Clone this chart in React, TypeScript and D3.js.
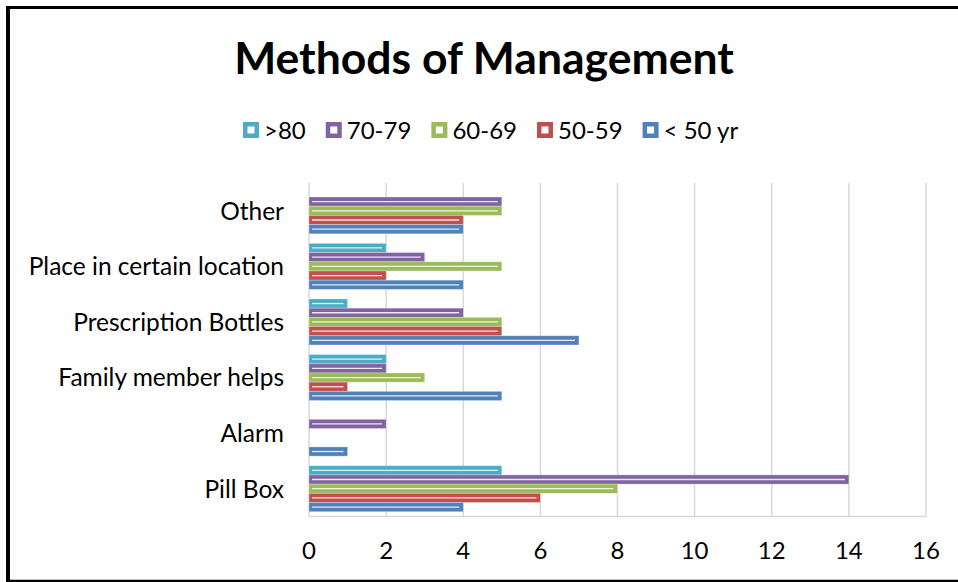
import * as d3 from "d3";
import { useEffect, useRef } from "react";

const W = 958;
const H = 582;

// categories as read top to bottom
const categories = [
  "Other",
  "Place in certain location",
  "Prescription Bottles",
  "Family member helps",
  "Alarm",
  "Pill Box",
];

// series in legend order (also top-to-bottom inside each group)
const seriesNames = [">80", "70-79", "60-69", "50-59", "< 50 yr"];
const seriesColors = ["#4BACC6", "#8064A2", "#9BBB59", "#C0504D", "#4F81BD"];

// values per series, aligned with categories
const over80 = [0, 2, 1, 2, 0, 5];
const age70s = [5, 3, 4, 2, 2, 14];
const age60s = [5, 5, 5, 3, 0, 8];
const age50s = [4, 2, 5, 1, 0, 6];
const under50 = [4, 4, 7, 5, 1, 4];
const seriesValues = [over80, age70s, age60s, age50s, under50];

const xTicks = [0, 2, 4, 6, 8, 10, 12, 14, 16];

const FONT = "Lato, 'Open Sans', sans-serif";

export default function App() {
  const svgRef = useRef<SVGSVGElement | null>(null);

  useEffect(() => {
    const svg = d3.select(svgRef.current);
    svg.selectAll("*").remove();

    const margin = { top: 183, left: 309, right: 32, bottom: 65.5 };

    const x = d3
      .scaleLinear()
      .domain([0, 16])
      .range([margin.left, W - margin.right]);

    const y = d3
      .scaleBand()
      .domain(categories)
      .range([margin.top, H - margin.bottom])
      .padding(0);

    const ySub = d3
      .scaleBand()
      .domain(seriesNames)
      .range([0, y.bandwidth()])
      .paddingInner(0)
      .paddingOuter(0.52);

    svg
      .append("rect")
      .attr("width", W)
      .attr("height", H)
      .attr("fill", "#fff");

    // outer frame
    svg.append("line").attr("x1", 8).attr("x2", 8).attr("y1", 6).attr("y2", H)
      .attr("stroke", "#000").attr("stroke-width", 4);
    svg.append("line").attr("x1", 6).attr("x2", W).attr("y1", 7.5).attr("y2", 7.5)
      .attr("stroke", "#000").attr("stroke-width", 3);
    svg.append("line").attr("x1", 6).attr("x2", W).attr("y1", 581).attr("y2", 581)
      .attr("stroke", "#000").attr("stroke-width", 2.5);

    // title
    svg
      .append("text")
      .attr("x", 484)
      .attr("y", 73.5)
      .attr("text-anchor", "middle")
      .style("font-family", FONT)
      .style("font-weight", "700")
      .style("font-size", "44.5px")
      .attr("fill", "#000")
      .text("Methods of Management");

    // legend
    const legend = svg.append("g").attr("transform", "translate(243,130)");
    let cx = 0;
    seriesNames.forEach((name, i) => {
      const item = legend.append("g").attr("transform", `translate(${cx},0)`);
      item.append("rect").attr("x", 0).attr("y", -8).attr("width", 16).attr("height", 16)
        .attr("fill", seriesColors[i]);
      item.append("rect").attr("x", 4.5).attr("y", -3.5).attr("width", 7).attr("height", 7)
        .attr("fill", "#fff");
      const t = item
        .append("text")
        .attr("x", 21)
        .attr("y", 8.5)
        .style("font-family", FONT)
        .style("font-size", "24px")
        .attr("fill", "#000")
        .text(name);
      const len = (t.node() as SVGTextElement).getComputedTextLength();
      cx += 21 + len + 20;
    });

    // grid
    svg
      .append("g")
      .selectAll("line")
      .data(xTicks)
      .join("line")
      .attr("x1", (d) => x(d))
      .attr("x2", (d) => x(d))
      .attr("y1", margin.top)
      .attr("y2", H - margin.bottom)
      .attr("stroke", "#d9d9d9")
      .attr("stroke-width", 1.5);

    svg
      .append("line")
      .attr("x1", x(0))
      .attr("x2", x(16))
      .attr("y1", H - margin.bottom)
      .attr("y2", H - margin.bottom)
      .attr("stroke", "#d9d9d9")
      .attr("stroke-width", 1.5);

    // x tick labels
    svg
      .append("g")
      .selectAll("text")
      .data(xTicks)
      .join("text")
      .attr("x", (d) => x(d))
      .attr("y", 559)
      .attr("text-anchor", "middle")
      .style("font-family", FONT)
      .style("font-size", "24px")
      .attr("fill", "#000")
      .text((d) => d);

    // category labels
    svg
      .append("g")
      .selectAll("text")
      .data(categories)
      .join("text")
      .attr("x", 284)
      .attr("y", (d) => (y(d) as number) + y.bandwidth() / 2)
      .attr("dy", "0.36em")
      .attr("text-anchor", "end")
      .style("font-family", FONT)
      .style("font-size", "24.5px")
      .attr("fill", "#000")
      .text((d) => d);

    // bars
    const rows = categories.flatMap((cat, ci) =>
      seriesNames.map((s, si) => ({ cat, s, si, v: seriesValues[si][ci] }))
    );
    const bars = svg
      .append("g")
      .selectAll("g")
      .data(rows.filter((d) => d.v > 0))
      .join("g")
      .attr(
        "transform",
        (d) => `translate(0,${(y(d.cat) as number) + (ySub(d.s) as number)})`
      );

    bars
      .append("rect")
      .attr("x", x(0))
      .attr("y", 0)
      .attr("width", (d) => x(d.v) - x(0))
      .attr("height", ySub.bandwidth())
      .attr("fill", (d) => seriesColors[d.si])
      .attr("stroke", "#fff")
      .attr("stroke-opacity", 0.35)
      .attr("stroke-width", 0.8);

    bars
      .append("line")
      .attr("x1", x(0) + 3)
      .attr("x2", (d) => x(d.v) - 4)
      .attr("y1", ySub.bandwidth() / 2)
      .attr("y2", ySub.bandwidth() / 2)
      .attr("stroke", "#fff")
      .attr("stroke-opacity", 0.85)
      .attr("stroke-width", 1.3);
  }, []);

  return (
    <div style={{ position: "absolute", left: 0, top: 0 }}>
      <svg ref={svgRef} width={W} height={H} style={{ display: "block" }} />
    </div>
  );
}
